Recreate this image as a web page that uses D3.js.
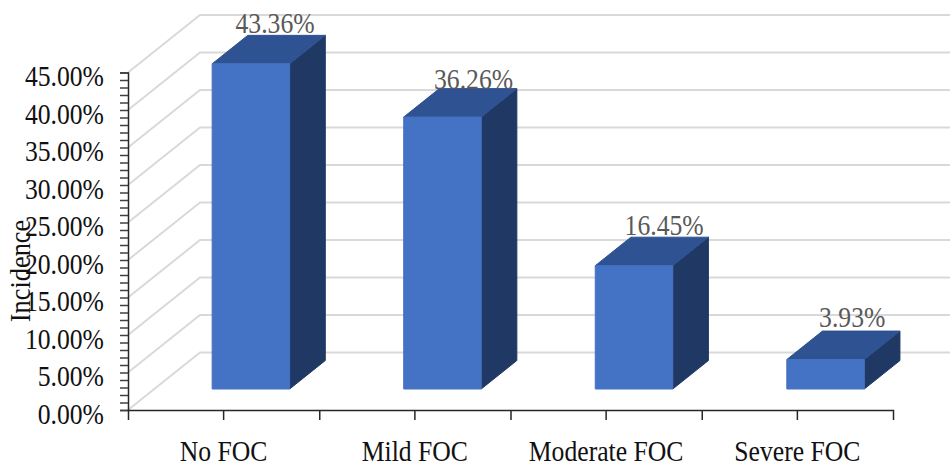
<!DOCTYPE html>
<html>
<head>
<meta charset="utf-8">
<script src="https://cdn.jsdelivr.net/npm/d3@7"></script>
<style>
body { margin: 0; background: #fff; }
text { font-family: "Liberation Serif", serif; }
</style>
</head>
<body>
<div id="chartDiv"></div>
<script>
var categories = ["No FOC", "Mild FOC", "Moderate FOC", "Severe FOC"];
var incidence = [43.36, 36.26, 16.45, 3.93];
var yTicks = [0, 5, 10, 15, 20, 25, 30, 35, 40, 45];
var minorTicks = d3.range(0, 46);

var svg = d3.select("#chartDiv").append("svg")
    .attr("width", 950)
    .attr("height", 461)
    .style("display", "block");

var x_scale = d3.scaleBand().domain(categories).range([128, 893]);
var y_scale = d3.scaleLinear().domain([0, 45]).range([410, 72.5]);
// depth axis, 0 = front of the floor, 1 = back wall
var z_x = d3.scaleLinear().domain([0, 1]).range([0, 72]);
var z_y = d3.scaleLinear().domain([0, 1]).range([0, -57.5]);

var barWidth = 77.5, barFront = 0.365, barBack = 0.86;
var fontSize = 29, squeeze = 0.885;
// data labels sit a little unevenly in the original
var labelShiftX = [-7.5, -0.5, -1.5, -5];
var labelShiftY = [1, 3, 1, -1];

function pt(x, v, z) {
  return [x + z_x(z), y_scale(v) + z_y(z)];
}

// the original text is narrower than the font, squeeze it around its own x
function squeezeText(sel) {
  sel.each(function() {
    var t = d3.select(this);
    var x = +t.attr("x") || 0;
    var y = +t.attr("y") || 0;
    t.attr("x", 0).attr("y", 0)
      .attr("transform", "translate(" + x + "," + y + ") scale(" + squeeze + ",1)");
  });
}

// walls
var grid = svg.append("g").attr("fill", "none").attr("stroke", "#d9d9d9").attr("stroke-width", 2);
grid.selectAll("path").data(yTicks).enter().append("path")
  .attr("d", function(d) {
    return d3.line()([pt(128, d, 0), pt(128, d, 1), pt(893, d, 1)]);
  });

// bars
var bars = svg.append("g").selectAll("g").data(incidence).enter().append("g");

function barX(i) {
  return x_scale(categories[i]) + x_scale.bandwidth() / 2 - barWidth / 2 + 1 + i * 0.3;
}

function face(color, corners) {
  return function(sel) {
    sel.append("path")
      .attr("fill", color).attr("stroke", color).attr("stroke-width", 1).attr("stroke-linejoin", "round")
      .attr("d", function(d, i) {
        return d3.line()(corners(d, barX(i))) + "Z";
      });
  };
}

bars.call(face("#203864", function(d, x) {
  return [pt(x + barWidth, 0, barFront), pt(x + barWidth, d, barFront), pt(x + barWidth, d, barBack), pt(x + barWidth, 0, barBack)];
}));
bars.call(face("#2f5292", function(d, x) {
  return [pt(x, d, barFront), pt(x + barWidth, d, barFront), pt(x + barWidth, d, barBack), pt(x, d, barBack)];
}));
bars.call(face("#4472c4", function(d, x) {
  return [pt(x, 0, barFront), pt(x + barWidth, 0, barFront), pt(x + barWidth, d, barFront), pt(x, d, barFront)];
}));

bars.append("text")
  .attr("text-anchor", "middle")
  .attr("font-size", fontSize)
  .attr("fill", "#595959")
  .attr("x", function(d, i) { return pt(barX(i) + barWidth / 2, d, barBack)[0] - 4 + labelShiftX[i]; })
  .attr("y", function(d, i) { return pt(0, d, barBack)[1] - 3 + labelShiftY[i]; })
  .text(function(d) { return d.toFixed(2) + "%"; })
  .call(squeezeText);

// axes
var yAxis = d3.axisLeft(y_scale)
  .tickValues(minorTicks)
  .tickSize(8)
  .tickPadding(16)
  .tickFormat(function(d) { return yTicks.indexOf(d) >= 0 ? d.toFixed(2) + "%" : ""; });

var yGroup = svg.append("g").attr("transform", "translate(128,0)").call(yAxis);
yGroup.selectAll(".tick line").attr("stroke", "#404040").attr("stroke-width", 1.5);
yGroup.selectAll(".domain").attr("stroke", "#262626").attr("stroke-width", 1.5);
yGroup.selectAll("text").attr("font-size", fontSize).attr("font-family", "Liberation Serif").attr("fill", "#111").attr("dy", "0.46em").call(squeezeText);

var xAxis = d3.axisBottom(x_scale).tickSize(10).tickPadding(20);
var xGroup = svg.append("g").attr("transform", "translate(0,410)").call(xAxis);
xGroup.selectAll(".tick line").attr("stroke", "#262626").attr("stroke-width", 1.5);
xGroup.selectAll(".domain").attr("stroke", "#262626").attr("stroke-width", 1.5);
xGroup.selectAll("text").attr("font-size", fontSize).attr("font-family", "Liberation Serif").attr("fill", "#111").call(squeezeText);

// ticks between the categories
xGroup.selectAll(".between").data(categories.slice(1)).enter().append("line")
  .attr("class", "between")
  .attr("x1", function(d) { return x_scale(d) + 0.5; })
  .attr("x2", function(d) { return x_scale(d) + 0.5; })
  .attr("y1", 0.5)
  .attr("y2", 10)
  .attr("stroke", "#262626").attr("stroke-width", 1.5);

svg.append("text")
  .attr("transform", "translate(30,271) rotate(-90) scale(0.91,1)")
  .attr("text-anchor", "middle")
  .attr("font-size", fontSize)
  .attr("fill", "#111")
  .text("Incidence");
</script>
</body>
</html>
